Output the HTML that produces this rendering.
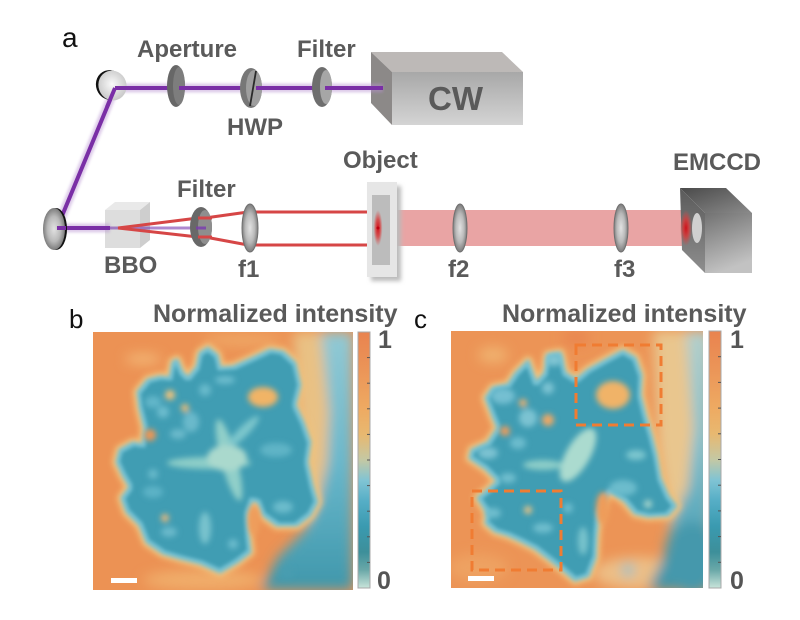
<!DOCTYPE html>
<html><head><meta charset="utf-8">
<style>
html,body{margin:0;padding:0;background:#fff;}
svg{display:block;}
text{font-family:"Liberation Sans",Arial,sans-serif;}
.lb{font-weight:bold;fill:#5a5a5a;font-size:24px;}
</style></head><body>
<svg width="800" height="620" viewBox="0 0 800 620" xmlns="http://www.w3.org/2000/svg">
<defs>
  <filter id="bl1" x="-20%" y="-20%" width="140%" height="140%"><feGaussianBlur stdDeviation="1.2"/></filter>
  <filter id="bl2" x="-20%" y="-20%" width="140%" height="140%"><feGaussianBlur stdDeviation="2"/></filter>
  <filter id="bl3" x="-20%" y="-20%" width="140%" height="140%"><feGaussianBlur stdDeviation="3"/></filter>
  <filter id="bl6" x="-30%" y="-30%" width="160%" height="160%"><feGaussianBlur stdDeviation="6"/></filter>
  <filter id="er" x="-20%" y="-20%" width="140%" height="140%"><feMorphology operator="erode" radius="2.5"/><feGaussianBlur stdDeviation="1.8"/></filter>
  <radialGradient id="lens" cx="0.5" cy="0.5" r="0.5"><stop offset="0" stop-color="#e2e2e2"/><stop offset="0.6" stop-color="#b9b9b9"/><stop offset="1" stop-color="#7c7c7c"/></radialGradient>
  <radialGradient id="mir" cx="0.5" cy="0.45" r="0.55"><stop offset="0" stop-color="#fafafa"/><stop offset="1" stop-color="#c8c8c8"/></radialGradient>
  <radialGradient id="spot" cx="0.5" cy="0.5" r="0.5"><stop offset="0" stop-color="#d0101a"/><stop offset="0.5" stop-color="#d83a3a" stop-opacity="0.8"/><stop offset="1" stop-color="#d84848" stop-opacity="0"/></radialGradient>
  <linearGradient id="cwf" x1="0" y1="0" x2="0" y2="1"><stop offset="0" stop-color="#a8a8a8"/><stop offset="1" stop-color="#d4d4d4"/></linearGradient>
  <linearGradient id="emf" x1="0" y1="0" x2="0.3" y2="1"><stop offset="0" stop-color="#727272"/><stop offset="1" stop-color="#c2c2c2"/></linearGradient>
  <linearGradient id="emt" x1="0" y1="0" x2="1" y2="1"><stop offset="0" stop-color="#4a4a4a"/><stop offset="1" stop-color="#8a8a8a"/></linearGradient>
  <linearGradient id="eml" x1="0" y1="0" x2="0" y2="1"><stop offset="0" stop-color="#5a5a5a"/><stop offset="1" stop-color="#8e8e8e"/></linearGradient>
  <linearGradient id="cbar" x1="0" y1="0" x2="0" y2="1">
    <stop offset="0" stop-color="#e9834f"/><stop offset="0.15" stop-color="#eb9558"/>
    <stop offset="0.3" stop-color="#eeaa62"/><stop offset="0.4" stop-color="#e8b870"/>
    <stop offset="0.5" stop-color="#c4c8a4"/><stop offset="0.58" stop-color="#80c4d4"/>
    <stop offset="0.66" stop-color="#56aec6"/><stop offset="0.76" stop-color="#3a9ab0"/>
    <stop offset="0.86" stop-color="#3d8f9a"/><stop offset="0.93" stop-color="#6aa8a8"/>
    <stop offset="1" stop-color="#c8e4da"/>
  </linearGradient>
  <linearGradient id="rb" x1="0" y1="0" x2="0" y2="1"><stop offset="0" stop-color="#92c9d4"/><stop offset="0.5" stop-color="#6ab8cc"/><stop offset="1" stop-color="#3f97ab"/></linearGradient>
  <linearGradient id="rc" x1="0" y1="0" x2="0" y2="1"><stop offset="0" stop-color="#b4d0cc"/><stop offset="0.45" stop-color="#7cc0d0"/><stop offset="1" stop-color="#3f93a7"/></linearGradient>
</defs>

<!-- ===== Panel a ===== -->
<text x="62" y="47" font-size="28" fill="#111">a</text>
<text class="lb" x="137" y="57">Aperture</text>
<text class="lb" x="297" y="57">Filter</text>
<text class="lb" x="227" y="135">HWP</text>
<text class="lb" x="343" y="168">Object</text>
<text class="lb" x="177" y="197">Filter</text>
<text class="lb" x="673" y="170">EMCCD</text>
<text class="lb" x="104" y="273">BBO</text>
<text class="lb" x="238" y="277">f1</text>
<text class="lb" x="448" y="277">f2</text>
<text class="lb" x="614" y="277">f3</text>

<!-- CW box -->
<polygon points="371,52 502,52 523,72 392,72" fill="#bdb9b7"/>
<polygon points="371,52 392,72 392,125 371,103" fill="#8c8988"/>
<rect x="392" y="72" width="131" height="53" fill="url(#cwf)"/>
<text x="428" y="110" font-size="33" font-weight="bold" fill="#5a5a5a">CW</text>

<!-- BBO cube -->
<g opacity="0.85">
<rect x="105" y="210" width="35" height="38" fill="#d8d8d8"/>
<polygon points="105,210 115,202 150,202 140,210" fill="#e6e6e6"/>
<polygon points="140,210 150,202 150,240 140,248" fill="#c6c6c6"/>
</g>

<!-- pink wide beam -->
<rect x="392" y="210" width="296" height="36" fill="#e9a4a4"/>

<!-- purple beam -->
<path d="M383,88 L115,88 L57,228 L110,228" fill="none" stroke="#b68fd0" stroke-width="9" opacity="0.45" filter="url(#bl1)"/>
<path d="M383,88 L115,88 L57,228 L110,228" fill="none" stroke="#7a2fa6" stroke-width="4"/>
<line x1="110" y1="228" x2="198" y2="228" stroke="#7a3ab0" stroke-width="3" opacity="0.6"/>

<!-- red beams -->
<g stroke="#d64646" stroke-width="3" fill="none">
<line x1="118" y1="228" x2="198" y2="218"/>
<line x1="118" y1="228" x2="198" y2="237"/>
<line x1="205" y1="218" x2="248" y2="212"/>
<line x1="205" y1="237" x2="248" y2="245"/>
<line x1="248" y1="212" x2="378" y2="212"/>
<line x1="248" y1="245" x2="378" y2="245"/>
</g>

<!-- mirrors -->
<ellipse cx="110" cy="85" rx="14" ry="15" fill="#111" transform="rotate(-20 110 85)"/>
<ellipse cx="112.5" cy="85.5" rx="14" ry="15" fill="url(#mir)" transform="rotate(-20 112.5 85.5)"/>
<ellipse cx="56" cy="229" rx="11" ry="21" fill="#111"/>
<ellipse cx="54" cy="229" rx="11" ry="21" fill="url(#lens)"/>
<path d="M115,88 L127,88" stroke="#7a2fa6" stroke-width="4"/>
<path d="M115,88 L107,107" stroke="#7a2fa6" stroke-width="4"/>
<path d="M57,228 L66,228" stroke="#7a2fa6" stroke-width="4"/>

<!-- aperture, HWP, filter top -->
<ellipse cx="176" cy="86" rx="9" ry="21" fill="#676767"/>
<ellipse cx="179" cy="86" rx="6" ry="19" fill="#7d7d7d"/>
<line x1="179" y1="88" x2="186" y2="88" stroke="#7a2fa6" stroke-width="4"/>
<ellipse cx="251" cy="88" rx="11" ry="20" fill="#777"/>
<ellipse cx="254" cy="88" rx="8" ry="18" fill="#9e9e9e"/>
<line x1="256" y1="71" x2="250" y2="106" stroke="#2a2a2a" stroke-width="1.8"/>
<line x1="256" y1="88" x2="263" y2="88" stroke="#7a2fa6" stroke-width="4"/>
<ellipse cx="322" cy="87" rx="10" ry="20" fill="#6e6e6e"/>
<ellipse cx="326" cy="87" rx="6" ry="17" fill="#a6a6a6"/>
<line x1="325" y1="88" x2="333" y2="88" stroke="#7a2fa6" stroke-width="4"/>

<!-- bottom filter -->
<ellipse cx="201" cy="227" rx="11" ry="20" fill="#686868"/>
<ellipse cx="205" cy="227" rx="7" ry="17" fill="#8e8e8e"/>
<g stroke="#d64646" stroke-width="3"><line x1="198" y1="218" x2="212" y2="218"/><line x1="198" y1="237" x2="212" y2="237"/></g>
<line x1="196" y1="228" x2="206" y2="228" stroke="#7a3ab0" stroke-width="3" opacity="0.8"/>

<!-- lenses -->
<ellipse cx="250" cy="228" rx="8" ry="24" fill="url(#lens)" stroke="#707070" stroke-width="1"/>
<ellipse cx="460" cy="228" rx="7" ry="24" fill="url(#lens)" stroke="#707070" stroke-width="1"/>
<ellipse cx="621" cy="228" rx="7" ry="24" fill="url(#lens)" stroke="#707070" stroke-width="1"/>

<!-- object slide -->
<rect x="371" y="186" width="30" height="95" fill="#bbb" filter="url(#bl2)"/>
<rect x="367" y="182" width="30" height="95" fill="#e6e6e6"/>
<rect x="372" y="195" width="18" height="70" fill="#bcbcbc"/>
<ellipse cx="378" cy="228" rx="4.5" ry="18" fill="url(#spot)"/>
<circle cx="378" cy="228" r="1.5" fill="#c00010"/>

<!-- EMCCD -->
<polygon points="680,188 726,188 752,213 705,213" fill="url(#emt)"/>
<polygon points="680,188 705,213 705,273 682,250" fill="url(#eml)"/>
<rect x="705" y="213" width="47" height="60" fill="url(#emf)"/>
<ellipse cx="697" cy="228" rx="5" ry="15" fill="#d0d0d0"/>
<ellipse cx="686" cy="228" rx="6" ry="18" fill="url(#spot)"/>

<!-- ===== Panel b ===== -->
<text x="69" y="328" font-size="26" fill="#111">b</text>
<text x="153" y="322" font-size="25" font-weight="bold" fill="#5a5a5a">Normalized intensity</text>
<svg x="93" y="332" width="260" height="258" viewBox="0 0 260 258">
  <rect width="260" height="258" fill="#ec9254"/>
  <g filter="url(#bl6)">
    <ellipse cx="50" cy="27" rx="18" ry="5" fill="#f3b877"/>
    <ellipse cx="150" cy="8" rx="40" ry="6" fill="#efa866"/>
    <ellipse cx="110" cy="248" rx="60" ry="10" fill="#f0ad6a"/>
    <polygon points="200,0 234,0 238,60 240,130 232,180 212,200" fill="#e9c184"/>
    <polygon points="228,0 260,0 260,258 168,258 185,225 210,200 225,170 234,130 236,80 232,40" fill="url(#rb)"/>
  </g>
  <polygon points="77,46 80,30 84,28 89,40 95,46 104,35 107,21 115,16 124,23 127,36 140,35 160,26 177,18 190,20 202,31 207,53 202,73 210,90 217,110 214,130 219,153 224,170 217,183 204,193 184,193 170,183 165,170 159,168 154,183 155,203 157,220 144,230 127,240 107,231 87,226 70,221 54,210 47,193 34,180 29,166 37,155 30,143 24,130 27,118 40,111 50,113 52,96 47,76 45,60 55,48 67,45" fill="none" stroke="#f3c27a" stroke-width="10" stroke-linejoin="round" filter="url(#bl3)"/>
  <polygon points="77,46 80,30 84,28 89,40 95,46 104,35 107,21 115,16 124,23 127,36 140,35 160,26 177,18 190,20 202,31 207,53 202,73 210,90 217,110 214,130 219,153 224,170 217,183 204,193 184,193 170,183 165,170 159,168 154,183 155,203 157,220 144,230 127,240 107,231 87,226 70,221 54,210 47,193 34,180 29,166 37,155 30,143 24,130 27,118 40,111 50,113 52,96 47,76 45,60 55,48 67,45" fill="#74c1d3" stroke="#74c1d3" stroke-width="3" stroke-linejoin="round" filter="url(#bl2)"/>
  <polygon points="77,46 80,30 84,28 89,40 95,46 104,35 107,21 115,16 124,23 127,36 140,35 160,26 177,18 190,20 202,31 207,53 202,73 210,90 217,110 214,130 219,153 224,170 217,183 204,193 184,193 170,183 165,170 159,168 154,183 155,203 157,220 144,230 127,240 107,231 87,226 70,221 54,210 47,193 34,180 29,166 37,155 30,143 24,130 27,118 40,111 50,113 52,96 47,76 45,60 55,48 67,45" fill="#3f9db3" filter="url(#er)"/>
  <g filter="url(#bl3)">
    <ellipse cx="98" cy="90" rx="8" ry="10" fill="#6ab9cb"/>
    <ellipse cx="60" cy="70" rx="8" ry="6" fill="#62b6c9"/>
    <circle cx="70" cy="80" r="6" fill="#6cbccd"/>
    <ellipse cx="85" cy="102" rx="8" ry="5" fill="#6ab9cb"/>
    <circle cx="112" cy="58" r="6" fill="#68b9cb"/>
    <ellipse cx="132" cy="48" rx="10" ry="4" fill="#6cbccd"/>
    <circle cx="60" cy="142" r="5" fill="#68b9cb"/>
    <ellipse cx="76" cy="200" rx="8" ry="5" fill="#6ab9cb"/>
    <circle cx="140" cy="212" r="5" fill="#6cbccd"/>
    <ellipse cx="183" cy="118" rx="16" ry="7" fill="#5fb4c6"/>
    <ellipse cx="190" cy="175" rx="10" ry="6" fill="#6cbccc"/>
    <ellipse cx="112" cy="196" rx="6" ry="16" fill="#78c2cd"/>
    <ellipse cx="60" cy="160" rx="10" ry="6" fill="#5cb2c6"/>
    <ellipse cx="116" cy="131" rx="42" ry="6" fill="#8ccdc8"/>
    <ellipse cx="136" cy="128" rx="8" ry="42" fill="#90cfc9" transform="rotate(-15 136 128)"/>
    <ellipse cx="150" cy="100" rx="5" ry="22" fill="#7cc6cc" transform="rotate(45 150 100)"/>
    <ellipse cx="134" cy="126" rx="20" ry="13" fill="#aad9cd"/>
    <ellipse cx="170" cy="65" rx="15" ry="10" fill="#f1b466"/>
    <circle cx="77" cy="63" r="5" fill="#f0c27a"/>
    <circle cx="92" cy="76" r="4" fill="#eebb74"/>
    <circle cx="57" cy="103" r="6" fill="#ec9654"/>
    <ellipse cx="161" cy="188" rx="6" ry="15" fill="#ee9d5c"/>
    <circle cx="72" cy="186" r="4" fill="#e9b77a"/>
    <circle cx="194" cy="240" r="6" fill="#4a9db0"/>
  </g>
  <rect x="18" y="246" width="26" height="5" fill="#fff"/>
</svg>
<rect x="358" y="332" width="12" height="256" fill="url(#cbar)" stroke="#a8a8a8" stroke-width="1"/>
<g stroke="#555" stroke-width="1">
  <line x1="367" y1="357.6" x2="370" y2="357.6"/><line x1="367" y1="383.2" x2="370" y2="383.2"/>
  <line x1="367" y1="408.8" x2="370" y2="408.8"/><line x1="367" y1="434.4" x2="370" y2="434.4"/>
  <line x1="367" y1="460" x2="370" y2="460"/><line x1="367" y1="485.6" x2="370" y2="485.6"/>
  <line x1="367" y1="511.2" x2="370" y2="511.2"/><line x1="367" y1="536.8" x2="370" y2="536.8"/>
  <line x1="367" y1="562.4" x2="370" y2="562.4"/>
</g>
<text x="378" y="348" font-size="25" font-weight="bold" fill="#555">1</text>
<text x="377" y="589" font-size="25" font-weight="bold" fill="#555">0</text>

<!-- ===== Panel c ===== -->
<text x="414" y="328" font-size="26" fill="#111">c</text>
<text x="502" y="322" font-size="25" font-weight="bold" fill="#5a5a5a">Normalized intensity</text>
<svg x="451" y="331" width="252" height="257" viewBox="3 3 252 257">
  <rect x="0" y="0" width="262" height="262" fill="#ec9456"/>
  <g filter="url(#bl6)">
    <ellipse cx="45" cy="27" rx="15" ry="8" fill="#f0b270"/>
    <ellipse cx="128" cy="10" rx="14" ry="8" fill="#e98650"/>
    <ellipse cx="30" cy="240" rx="30" ry="14" fill="#eea262"/>
    <ellipse cx="190" cy="245" rx="45" ry="16" fill="#edbe85"/>
    <polygon points="205,3 248,3 250,100 240,170 222,200 210,120" fill="#e9c68e"/>
    <polygon points="238,3 262,3 262,262 200,262 215,230 225,190 240,160 246,100" fill="url(#rc)"/>
    <ellipse cx="244" cy="230" rx="26" ry="36" fill="#4498ac"/>
    <circle cx="180" cy="242" r="6" fill="#7cc2d0"/>
  </g>
  <polygon points="80,33 88,55 97,45 100,27 112,25 117,45 128,52 140,42 158,32 175,23 187,30 193,47 192,67 197,87 203,107 208,127 212,150 220,168 228,178 220,187 200,188 187,185 177,173 163,163 157,170 150,187 148,207 147,230 140,248 127,252 113,240 100,230 87,220 73,213 60,207 47,203 38,195 40,185 30,170 40,162 50,153 37,140 22,130 24,122 40,115 50,100 45,88 38,70 45,60 60,57 68,45" fill="none" stroke="#f3c27a" stroke-width="10" stroke-linejoin="round" filter="url(#bl3)"/>
  <polygon points="80,33 88,55 97,45 100,27 112,25 117,45 128,52 140,42 158,32 175,23 187,30 193,47 192,67 197,87 203,107 208,127 212,150 220,168 228,178 220,187 200,188 187,185 177,173 163,163 157,170 150,187 148,207 147,230 140,248 127,252 113,240 100,230 87,220 73,213 60,207 47,203 38,195 40,185 30,170 40,162 50,153 37,140 22,130 24,122 40,115 50,100 45,88 38,70 45,60 60,57 68,45" fill="#74c1d3" stroke="#74c1d3" stroke-width="3" stroke-linejoin="round" filter="url(#bl2)"/>
  <polygon points="80,33 88,55 97,45 100,27 112,25 117,45 128,52 140,42 158,32 175,23 187,30 193,47 192,67 197,87 203,107 208,127 212,150 220,168 228,178 220,187 200,188 187,185 177,173 163,163 157,170 150,187 148,207 147,230 140,248 127,252 113,240 100,230 87,220 73,213 60,207 47,203 38,195 40,185 30,170 40,162 50,153 37,140 22,130 24,122 40,115 50,100 45,88 38,70 45,60 60,57 68,45" fill="#3f9db3" filter="url(#er)"/>
  <g filter="url(#bl3)">
    <ellipse cx="55" cy="68" rx="12" ry="8" fill="#74bfd1"/>
    <circle cx="80" cy="90" r="9" fill="#7cc3d2"/>
    <ellipse cx="106" cy="32" rx="8" ry="6" fill="#80c5d3"/>
    <circle cx="100" cy="60" r="6" fill="#7ac2d2"/>
    <ellipse cx="40" cy="125" rx="10" ry="6" fill="#7cc2d2"/>
    <ellipse cx="70" cy="115" rx="8" ry="6" fill="#6cbccd"/>
    <ellipse cx="60" cy="150" rx="8" ry="5" fill="#70bece"/>
    <ellipse cx="95" cy="200" rx="10" ry="5" fill="#6ebdcd"/>
    <circle cx="120" cy="180" r="5" fill="#6cbccd"/>
    <ellipse cx="45" cy="185" rx="8" ry="5" fill="#70bece"/>
    <ellipse cx="165" cy="67" rx="17" ry="14" fill="#f0b367"/>
    <circle cx="100" cy="92" r="6" fill="#eea865"/>
    <circle cx="57" cy="103" r="5" fill="#ee9c5c"/>
    <circle cx="75" cy="75" r="4" fill="#eeb070"/>
    <ellipse cx="155" cy="180" rx="7" ry="16" fill="#ee9c5a"/>
    <circle cx="80" cy="182" r="4" fill="#e9c283"/>
    <ellipse cx="188" cy="127" rx="10" ry="5" fill="#7cc6cf"/>
    <ellipse cx="175" cy="160" rx="14" ry="8" fill="#6cbccc"/>
    <circle cx="200" cy="176" r="4" fill="#a8d6cc"/>
    <ellipse cx="135" cy="213" rx="5" ry="14" fill="#78c3cc"/>
    <ellipse cx="95" cy="137" rx="20" ry="5" fill="#8ccdc8"/>
    <ellipse cx="130" cy="127" rx="12" ry="30" fill="#abdbcf" transform="rotate(30 130 127)"/>
  </g>
  <g fill="none" stroke="#f07c32" stroke-width="3" stroke-dasharray="10 6">
    <rect x="128" y="17" width="85" height="80"/>
    <rect x="24" y="163" width="89" height="79"/>
  </g>
  <rect x="20" y="248" width="26" height="5" fill="#fff"/>
</svg>
<rect x="709" y="331" width="12" height="257" fill="url(#cbar)" stroke="#a8a8a8" stroke-width="1"/>
<g stroke="#555" stroke-width="1">
  <line x1="718" y1="356.7" x2="721" y2="356.7"/><line x1="718" y1="382.4" x2="721" y2="382.4"/>
  <line x1="718" y1="408.1" x2="721" y2="408.1"/><line x1="718" y1="433.8" x2="721" y2="433.8"/>
  <line x1="718" y1="459.5" x2="721" y2="459.5"/><line x1="718" y1="485.2" x2="721" y2="485.2"/>
  <line x1="718" y1="510.9" x2="721" y2="510.9"/><line x1="718" y1="536.6" x2="721" y2="536.6"/>
  <line x1="718" y1="562.3" x2="721" y2="562.3"/>
</g>
<text x="730" y="348" font-size="25" font-weight="bold" fill="#555">1</text>
<text x="730" y="589" font-size="25" font-weight="bold" fill="#555">0</text>
</svg>
</body></html>
